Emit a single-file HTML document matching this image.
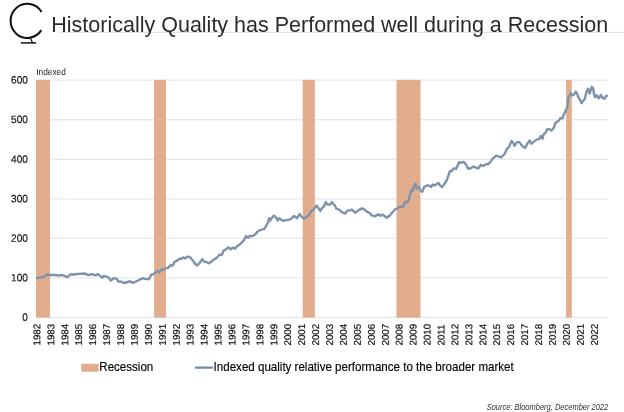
<!DOCTYPE html>
<html><head><meta charset="utf-8">
<style>
html,body{margin:0;padding:0;background:#fff;}
body{width:624px;height:412px;overflow:hidden;position:relative;font-family:"Liberation Sans",sans-serif;}
svg{position:absolute;left:0;top:0;}
text{font-family:"Liberation Sans",sans-serif;}
.ax{font-size:9.75px;fill:#111;stroke:#111;stroke-width:0.2px;}
.ay{font-size:10.6px;fill:#111;stroke:#111;stroke-width:0.15px;}
</style></head><body>
<svg width="624" height="412" viewBox="0 0 624 412">
<defs><filter id="bl" x="-5%" y="-5%" width="110%" height="110%"><feGaussianBlur stdDeviation="0.5"/></filter><filter id="bl2" filterUnits="userSpaceOnUse" x="190" y="360" width="30" height="16"><feGaussianBlur stdDeviation="0.4"/></filter><filter id="tb" x="-2%" y="-2%" width="104%" height="104%"><feGaussianBlur stdDeviation="0.3"/></filter></defs>
<!-- title underline -->
<line x1="59.3" x2="624" y1="32.4" y2="32.4" stroke="#dcdcdc" stroke-width="1"/>
<!-- logo -->
<path d="M41.58,11.99 A16.7,17.1 0 1 0 41.31,30.16" fill="none" stroke="#111" stroke-width="2"/>
<line x1="30.4" y1="37.9" x2="32.6" y2="42.9" stroke="#111" stroke-width="1.2"/>
<line x1="20.9" y1="42.9" x2="36.1" y2="42.9" stroke="#111" stroke-width="1.5"/>
<text x="51.3" y="32.1" font-size="21.5" fill="#2b2b2b" filter="url(#tb)">Historically Quality has Performed well during a Recession</text>
<!-- grid -->
<line x1="36" x2="608" y1="317.50" y2="317.50" stroke="#e8e8e8" stroke-width="1.3"/>
<line x1="36" x2="608" y1="277.95" y2="277.95" stroke="#e8e8e8" stroke-width="1.3"/>
<line x1="36" x2="608" y1="238.40" y2="238.40" stroke="#e8e8e8" stroke-width="1.3"/>
<line x1="36" x2="608" y1="198.85" y2="198.85" stroke="#e8e8e8" stroke-width="1.3"/>
<line x1="36" x2="608" y1="159.30" y2="159.30" stroke="#e8e8e8" stroke-width="1.3"/>
<line x1="36" x2="608" y1="119.75" y2="119.75" stroke="#e8e8e8" stroke-width="1.3"/>
<line x1="36" x2="608" y1="80.20" y2="80.20" stroke="#e8e8e8" stroke-width="1.3"/>

<!-- bands -->
<rect x="36" y="79.85" width="14.0" height="237.8" fill="#e1ad8d"/>
<rect x="154.1" y="79.85" width="11.9" height="237.8" fill="#e1ad8d"/>
<rect x="302.7" y="79.85" width="12.2" height="237.8" fill="#e1ad8d"/>
<rect x="396.5" y="79.85" width="24.0" height="237.8" fill="#e1ad8d"/>
<rect x="566.1" y="79.85" width="5.7" height="237.8" fill="#e1ad8d"/>

<!-- line -->
<path d="M36.8,278.1 L40.2,277.4 L43.6,276.9 L47.0,274.5 L49.5,275.0 L55.5,275.0 L58.9,275.5 L62.3,275.0 L67.4,277.1 L70.8,274.2 L74.2,274.5 L77.6,274.0 L84.4,273.5 L88.6,275.0 L92.0,274.2 L95.4,275.4 L98.0,274.2 L102.2,277.7 L103.9,275.9 L108.2,277.1 L110.7,280.5 L114.1,278.1 L116.7,278.9 L118.4,281.5 L121.8,281.8 L124.3,283.0 L127.6,282.0 L130.2,281.2 L132.7,282.9 L136.1,281.5 L139.5,279.8 L142.9,278.1 L145.5,279.1 L148.9,279.1 L151.4,274.4 L153.1,274.4 L154.8,273.0 L157.4,271.0 L159.1,272.3 L160.8,269.8 L163.3,269.8 L165.0,268.4 L167.6,268.1 L171.0,265.0 L172.7,265.5 L174.7,261.6 L176.9,260.8 L179.5,258.7 L181.5,258.7 L183.2,257.4 L184.9,258.4 L188.0,256.5 L190.5,257.7 L193.1,260.8 L194.8,263.5 L197.3,265.5 L199.9,262.5 L202.4,259.1 L204.1,261.6 L206.7,262.1 L209.2,263.3 L212.6,260.4 L216.9,257.7 L219.4,254.8 L222.0,254.8 L223.8,250.3 L226.1,249.3 L228.4,247.3 L230.7,249.3 L232.9,247.6 L235.1,248.8 L237.2,246.3 L240.6,243.7 L244.0,240.3 L246.0,236.1 L248.2,237.8 L249.9,235.7 L251.6,236.4 L255.0,234.7 L257.6,231.5 L260.1,230.1 L264.4,228.8 L266.9,224.5 L268.1,222.5 L269.1,218.2 L270.3,220.4 L272.0,217.7 L273.7,215.7 L275.4,216.5 L277.6,220.4 L279.3,218.2 L281.4,219.9 L283.9,220.8 L286.5,219.9 L289.0,219.9 L291.6,218.2 L294.1,216.0 L297.0,218.2 L299.6,214.0 L301.8,217.0 L303.8,218.7 L306.8,216.9 L309.3,214.7 L311.0,211.3 L313.6,209.6 L316.5,205.5 L318.7,208.4 L320.4,211.0 L322.1,207.9 L323.8,206.7 L325.8,202.1 L327.5,204.5 L330.2,204.5 L331.9,202.1 L334.8,205.5 L336.5,208.9 L339.1,209.6 L342.5,212.7 L345.5,213.5 L347.2,210.6 L349.3,210.6 L351.8,209.6 L355.2,212.7 L358.6,210.1 L362.0,208.4 L364.6,209.6 L367.1,211.8 L368.8,212.3 L371.4,215.2 L374.8,216.4 L378.2,214.4 L380.7,215.7 L382.9,214.7 L386.7,217.8 L390.1,215.2 L392.6,212.0 L395.1,209.4 L398.3,207.9 L400.2,206.5 L402.5,207.0 L404.0,204.8 L405.2,201.7 L407.1,202.3 L409.0,199.1 L410.3,193.4 L411.3,190.3 L412.6,191.3 L413.8,186.2 L415.4,183.8 L416.7,188.5 L418.9,187.0 L420.5,190.5 L422.3,191.7 L424.1,187.0 L428.1,185.2 L431.0,187.0 L432.7,184.5 L434.4,185.5 L438.4,183.0 L440.2,185.6 L442.0,187.0 L444.0,184.6 L446.6,180.5 L448.4,175.7 L450.0,170.9 L451.7,171.0 L453.5,168.4 L456.0,168.9 L458.0,164.9 L459.3,162.3 L461.4,162.6 L463.9,162.0 L466.1,164.8 L468.2,168.7 L470.7,168.2 L473.6,166.5 L475.8,167.7 L478.4,168.2 L480.9,164.8 L483.1,166.0 L486.0,164.3 L488.6,164.0 L491.1,160.9 L492.7,158.6 L496.1,155.7 L501.2,157.4 L504.6,154.0 L506.8,148.9 L509.2,146.7 L511.4,141.1 L513.1,142.5 L514.5,145.9 L517.0,142.1 L519.4,142.1 L522.1,145.9 L525.0,147.9 L527.6,143.3 L529.6,140.4 L531.3,143.8 L534.0,141.6 L536.9,139.4 L539.1,139.1 L540.8,136.0 L542.5,138.7 L543.7,134.0 L545.4,133.1 L547.1,129.2 L549.3,129.2 L551.4,130.6 L553.4,128.5 L555.6,122.6 L558.5,121.0 L560.1,118.3 L562.5,118.2 L564.0,114.3 L566.2,109.6 L567.4,107.0 L568.2,97.8 L569.5,95.8 L570.8,93.2 L572.4,95.3 L574.1,94.5 L575.5,91.8 L576.8,92.8 L578.2,97.0 L579.5,98.9 L581.6,103.2 L583.2,100.8 L584.7,99.1 L585.8,94.5 L587.0,90.3 L588.2,88.8 L589.7,93.7 L590.8,89.9 L591.8,86.8 L593.2,88.5 L594.1,94.5 L595.2,97.2 L596.6,95.3 L598.7,98.2 L601.0,94.9 L602.4,97.8 L604.5,98.7 L605.8,96.2 L606.9,95.8" fill="none" stroke="#7d93ad" stroke-width="2.4" filter="url(#bl)" stroke-linejoin="round" stroke-linecap="round"/>
<!-- labels -->
<g filter="url(#tb)">
<text x="36.3" y="74.5" font-size="8.3" fill="#1a1a1a">Indexed</text>
<text transform="translate(27.9,320.85) rotate(0.05) scale(0.955,1)" text-anchor="end" class="ay">0</text>
<text transform="translate(27.9,281.30) rotate(0.05) scale(0.955,1)" text-anchor="end" class="ay">100</text>
<text transform="translate(27.9,241.75) rotate(0.05) scale(0.955,1)" text-anchor="end" class="ay">200</text>
<text transform="translate(27.9,202.20) rotate(0.05) scale(0.955,1)" text-anchor="end" class="ay">300</text>
<text transform="translate(27.9,162.65) rotate(0.05) scale(0.955,1)" text-anchor="end" class="ay">400</text>
<text transform="translate(27.9,123.10) rotate(0.05) scale(0.955,1)" text-anchor="end" class="ay">500</text>
<text transform="translate(27.9,83.55) rotate(0.05) scale(0.955,1)" text-anchor="end" class="ay">600</text>

<text transform="translate(40.30,345.5) rotate(-90.04)" class="ax">1982</text>
<text transform="translate(54.23,345.5) rotate(-90.04)" class="ax">1983</text>
<text transform="translate(68.17,345.5) rotate(-90.04)" class="ax">1984</text>
<text transform="translate(82.10,345.5) rotate(-90.04)" class="ax">1985</text>
<text transform="translate(96.04,345.5) rotate(-90.04)" class="ax">1986</text>
<text transform="translate(109.97,345.5) rotate(-90.04)" class="ax">1987</text>
<text transform="translate(123.90,345.5) rotate(-90.04)" class="ax">1988</text>
<text transform="translate(137.84,345.5) rotate(-90.04)" class="ax">1989</text>
<text transform="translate(151.77,345.5) rotate(-90.04)" class="ax">1990</text>
<text transform="translate(165.71,345.5) rotate(-90.04)" class="ax">1991</text>
<text transform="translate(179.64,345.5) rotate(-90.04)" class="ax">1992</text>
<text transform="translate(193.57,345.5) rotate(-90.04)" class="ax">1993</text>
<text transform="translate(207.51,345.5) rotate(-90.04)" class="ax">1994</text>
<text transform="translate(221.44,345.5) rotate(-90.04)" class="ax">1995</text>
<text transform="translate(235.38,345.5) rotate(-90.04)" class="ax">1996</text>
<text transform="translate(249.31,345.5) rotate(-90.04)" class="ax">1997</text>
<text transform="translate(263.24,345.5) rotate(-90.04)" class="ax">1998</text>
<text transform="translate(277.18,345.5) rotate(-90.04)" class="ax">1999</text>
<text transform="translate(291.11,345.5) rotate(-90.04)" class="ax">2000</text>
<text transform="translate(305.05,345.5) rotate(-90.04)" class="ax">2001</text>
<text transform="translate(318.98,345.5) rotate(-90.04)" class="ax">2002</text>
<text transform="translate(332.91,345.5) rotate(-90.04)" class="ax">2003</text>
<text transform="translate(346.85,345.5) rotate(-90.04)" class="ax">2004</text>
<text transform="translate(360.78,345.5) rotate(-90.04)" class="ax">2005</text>
<text transform="translate(374.72,345.5) rotate(-90.04)" class="ax">2006</text>
<text transform="translate(388.65,345.5) rotate(-90.04)" class="ax">2007</text>
<text transform="translate(402.58,345.5) rotate(-90.04)" class="ax">2008</text>
<text transform="translate(416.52,345.5) rotate(-90.04)" class="ax">2009</text>
<text transform="translate(430.45,345.5) rotate(-90.04)" class="ax">2010</text>
<text transform="translate(444.39,345.5) rotate(-90.04)" class="ax">2011</text>
<text transform="translate(458.32,345.5) rotate(-90.04)" class="ax">2012</text>
<text transform="translate(472.25,345.5) rotate(-90.04)" class="ax">2013</text>
<text transform="translate(486.19,345.5) rotate(-90.04)" class="ax">2014</text>
<text transform="translate(500.12,345.5) rotate(-90.04)" class="ax">2015</text>
<text transform="translate(514.06,345.5) rotate(-90.04)" class="ax">2016</text>
<text transform="translate(527.99,345.5) rotate(-90.04)" class="ax">2017</text>
<text transform="translate(541.92,345.5) rotate(-90.04)" class="ax">2018</text>
<text transform="translate(555.86,345.5) rotate(-90.04)" class="ax">2019</text>
<text transform="translate(569.79,345.5) rotate(-90.04)" class="ax">2020</text>
<text transform="translate(583.73,345.5) rotate(-90.04)" class="ax">2021</text>
<text transform="translate(597.66,345.5) rotate(-90.04)" class="ax">2022</text>

<!-- legend -->
<rect x="81.3" y="363.7" width="17.4" height="8" rx="0.8" fill="#e1ad8d"/>
<text transform="translate(99.3,371.4) scale(0.9565,1)" font-size="12.1" fill="#000" stroke="#000" stroke-width="0.15">Recession</text>
<line x1="196" x2="212" y1="367.7" y2="367.7" stroke="#7189aa" stroke-width="2.3" stroke-linecap="round" filter="url(#bl2)"/>
<text transform="translate(213.6,371.4) scale(0.9565,1)" font-size="12.1" fill="#000" stroke="#000" stroke-width="0.15">Indexed quality relative performance to the broader market</text>
<text transform="translate(608.2,410) scale(0.834,1)" font-size="9" font-style="italic" text-anchor="end" fill="#333">Source: Bloomberg, December 2022</text>
</g>
</svg>
</body></html>
